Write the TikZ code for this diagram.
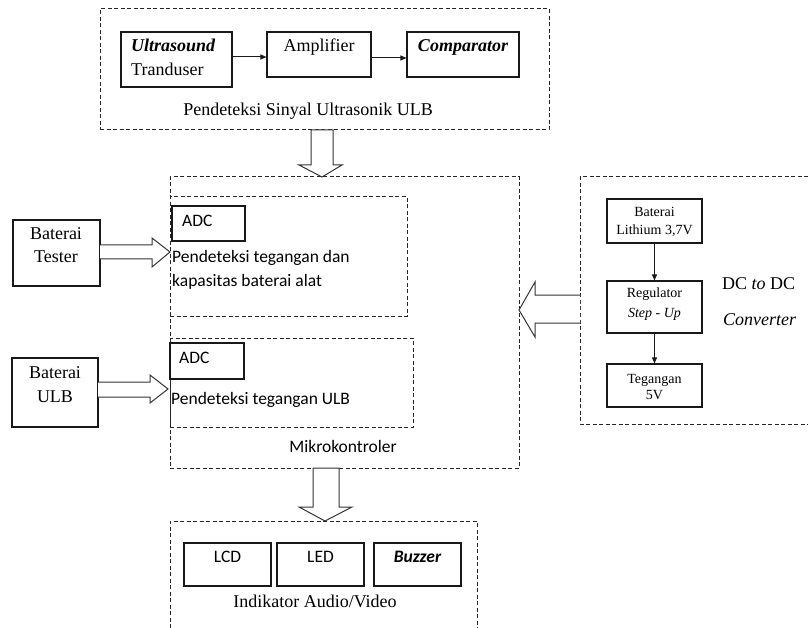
\documentclass[tikz,border=0pt]{standalone}
\usepackage{fontspec}
\setmainfont{Liberation Serif}
\newfontfamily\calfont{Carlito}
\usetikzlibrary{arrows.meta,fit}
\newcommand\fsBig{\fontsize{18}{21}\selectfont}
\newcommand\fsSm{\fontsize{14}{16}\selectfont}
\newcommand\fsCal{\calfont\fontsize{17.5}{20}\selectfont}
\begin{document}
\begin{tikzpicture}[x=1pt,y=-1pt,
  blk/.style={draw=black!90,line width=1.1pt,inner sep=0pt},
  dbox/.style={draw=black!85,line width=1pt,dash pattern=on 4pt off 2.5pt},
  hol/.style={draw=black!80,line width=1pt,fill=white,line join=miter},
  conn/.style={draw=black!90,line width=1pt,-{Triangle[length=6pt,width=5pt]}},
  tb/.style={inner sep=0pt,font=\fsBig},
  ts/.style={inner sep=0pt,font=\fsSm},
  tc/.style={inner sep=0pt,font=\fsCal}]
\useasboundingbox (0,0) rectangle (808,628);

% ---- top block
\node[dbox,inner sep=0pt,fit={(100,9)(549,130)}] (top) {};
\node[blk,fit={(121,32)(232,87)}] (us) {};
\node[blk,fit={(267,32)(371,77)}] (amp) {};
\node[blk,fit={(407,32)(519,77)}] (comp) {};
\node[tb,anchor=base west,font=\fsBig\bfseries\itshape] (usA) at (131,52) {Ultrasound};
\node[tb,anchor=base west] (usB) at (131,76) {Tranduser};
\node[tb,anchor=base] (ampT) at (319,52) {Amplifier};
\node[tb,anchor=base,font=\fsBig\bfseries\itshape] (compT) at (463,52) {Comparator};
\node[tb,anchor=base] (topT) at (308,116) {Pendeteksi Sinyal Ultrasonik ULB};
\draw[conn] (us.east |- 0,57) -- (amp.west |- 0,57);
\draw[conn] (amp.east |- 0,58) -- (comp.west |- 0,58);

% ---- hollow arrow top -> mikro
\draw[hol] (311,130) -- (333,130) -- (333,165) -- (342,165) -- (322,177) -- (299,165) -- (311,165) -- cycle;

% ---- Mikrokontroler
\node[dbox,inner sep=0pt,fit={(170,177)(519,468)}] (mk) {};
\node[dbox,inner sep=0pt,fit={(170,197)(407,316)}] (up) {};
\node[dbox,inner sep=0pt,fit={(170,338)(413,427)}] (lo) {};
\node[blk,fit={(172,206)(245,241)}] (adc1) {};
\node[blk,fit={(170,343)(244,379)}] (adc2) {};
\node[tc,anchor=base west] (adc1T) at (182,227) {ADC};
\node[tc,anchor=base west] (adc2T) at (179,363) {ADC};
\node[tc,anchor=base west] (up1) at (172,263) {Pendeteksi tegangan dan};
\node[tc,anchor=base west] (up2) at (172,287) {kapasitas baterai alat};
\node[tc,anchor=base west] (lo1) at (171,404) {Pendeteksi tegangan ULB};
\node[tc,anchor=base] (mkT) at (343,452) {Mikrokontroler};

% ---- batteries left
\node[blk,fit={(13,220)(100,286)}] (bt) {};
\node[blk,fit={(12,358)(98,427)}] (bu) {};
\node[tb,anchor=base] (bt1) at (56,240) {Baterai};
\node[tb,anchor=base] (bt2) at (56,263) {Tester};
\node[tb,anchor=base] (bu1) at (55,378) {Baterai};
\node[tb,anchor=base] (bu2) at (55,402) {ULB};
\draw[hol] (100,245) -- (152,245) -- (152,238) -- (170,252) -- (152,267) -- (152,259) -- (100,259);
\draw[hol] (98,382) -- (150,382) -- (150,375) -- (168,389) -- (150,403) -- (150,397) -- (98,397);

% ---- DC to DC
\draw[dbox] (808,177) -- (580,177) -- (580,424) -- (808,424);
\node[blk,fit={(607,199)(702,243)}] (lith) {};
\node[blk,fit={(607,281)(702,333)}] (reg) {};
\node[blk,fit={(607,364)(702,407)}] (teg) {};
\node[ts,anchor=base] (lith1) at (654.5,217) {Baterai};
\node[ts,anchor=base] (lith2) at (654.5,235) {Lithium 3,7V};
\node[ts,anchor=base] (reg1) at (654.5,298) {Regulator};
\node[ts,anchor=base,font=\fsSm\itshape] (reg2) at (654.5,317) {Step - Up};
\node[ts,anchor=base] (teg1) at (654.5,383) {Tegangan};
\node[ts,anchor=base] (teg2) at (654.5,399) {5V};
\draw[conn] (lith.south) -- (reg.north);
\draw[conn] (reg.south) -- (teg.north);
\node[tb,anchor=base west] (dc1) at (722,290) {DC \textit{to} DC};
\node[tb,anchor=base west,font=\fsBig\itshape] (dc2) at (723,325) {Converter};
\draw[hol] (580,295) -- (535,295) -- (535,282) -- (519,310) -- (535,337) -- (535,323) -- (580,323);

% ---- hollow arrow mikro -> indikator
\draw[hol] (313,468) -- (339,468) -- (339,507) -- (352,507) -- (325,521) -- (299,507) -- (313,507) -- cycle;

% ---- Indikator
\draw[dbox] (170,628) -- (170,521) -- (477,521) -- (477,628);
\node[blk,fit={(184,543)(271,586)}] (lcd) {};
\node[blk,fit={(277,543)(364,586)}] (led) {};
\node[blk,fit={(374,543)(461,586)}] (buz) {};
\node[tc,anchor=base] (lcdT) at (227.5,562) {LCD};
\node[tc,anchor=base] (ledT) at (320.5,562) {LED};
\node[tc,anchor=base,font=\fsCal\bfseries\itshape] (buzT) at (417.5,562) {Buzzer};
\node[tb,anchor=base] (indT) at (315,607) {Indikator Audio/Video};
\end{tikzpicture}
\end{document}
